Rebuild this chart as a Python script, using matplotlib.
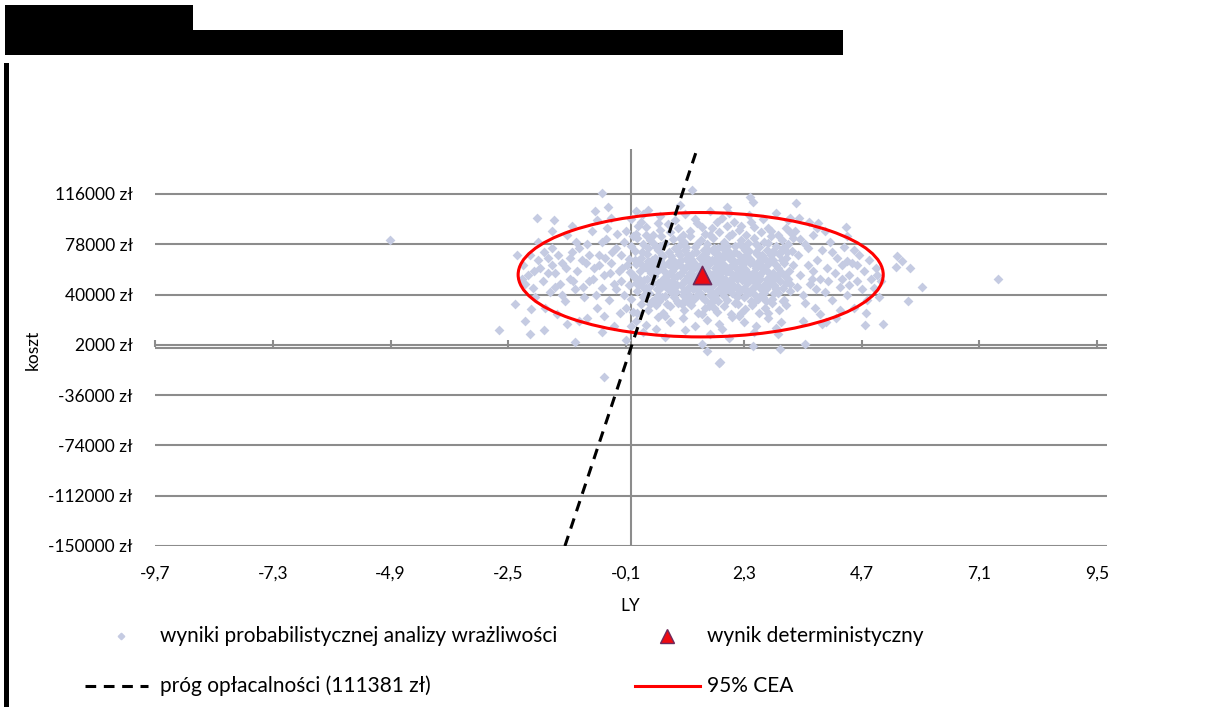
import matplotlib
matplotlib.use("Agg")
import matplotlib.pyplot as plt
from matplotlib.patches import Ellipse, Rectangle
from matplotlib.lines import Line2D

plt.rcParams['font.family'] = ['Lato', 'DejaVu Sans']

W, H = 1226, 707

# axis ticks
x_ticks = [-9.7, -7.3, -4.9, -2.5, -0.1, 2.3, 4.7, 7.1, 9.5]
x_tick_labels = ['-9,7', '-7,3', '-4,9', '-2,5', '-0,1', '2,3', '4,7', '7,1', '9,5']
y_ticks = [-150000, -112000, -74000, -36000, 2000, 40000, 78000, 116000]

# cost-effectiveness threshold, zl per LY
threshold = 111381

# deterministic result
det_ly = 1.45
det_cost = 55000

# 95% CEA ellipse
ell_center_ly = 1.42
ell_center_cost = 55000
ell_half_ly = 3.72
ell_half_cost = 47000

# PSA results (LY, cost in thousand zl)
psa_core = [
    (0.0, 97), (0.35, 104), (0.6, 99), (0.9, 96), (1.1, 101), (1.3, 97), (1.6, 103), (1.85, 98),
    (2.1, 95), (2.4, 100), (2.7, 97), (2.95, 102), (3.2, 96), (0.15, 92), (0.75, 93), (1.45, 91),
    (2.25, 92), (2.8, 90), (1.95, 106), (1.0, 108),
    (-0.1, 88), (0.1, 86), (0.3, 91), (0.45, 85), (0.6, 89), (0.8, 87), (0.95, 90), (1.05, 85),
    (1.2, 88), (1.35, 94), (1.5, 86), (1.65, 90), (1.8, 87), (1.95, 92), (2.05, 86), (2.2, 89),
    (2.35, 85), (2.5, 91), (2.65, 87), (2.85, 88), (3.0, 85), (3.15, 90), (0.55, 94), (1.75, 95),
    (2.45, 95), (0.2, 95), (3.25, 87),
    (-0.15, 80), (0.0, 77), (0.12, 83), (0.25, 78), (0.38, 81), (0.5, 76), (0.62, 84), (0.7, 79),
    (0.85, 82), (0.98, 77), (1.08, 80), (1.2, 84), (1.3, 76), (1.42, 81), (1.55, 78), (1.68, 83),
    (1.78, 75), (1.9, 80), (2.0, 84), (2.12, 77), (2.25, 81), (2.38, 79), (2.5, 83), (2.6, 76),
    (2.72, 80), (2.85, 84), (2.95, 77), (3.08, 81), (3.2, 78), (0.3, 85), (0.9, 75), (1.6, 85),
    (2.3, 75), (2.8, 79), (0.05, 84), (1.0, 83), (1.95, 77), (2.55, 78), (3.3, 83), (0.45, 79),
    (-0.2, 70), (-0.05, 67), (0.08, 73), (0.2, 68), (0.32, 71), (0.43, 66), (0.55, 74), (0.66, 69),
    (0.78, 72), (0.88, 65), (1.0, 70), (1.1, 74), (1.22, 67), (1.33, 72), (1.45, 69), (1.57, 74),
    (1.66, 66), (1.77, 71), (1.88, 68), (1.98, 73), (2.1, 65), (2.2, 70), (2.32, 74), (2.43, 67),
    (2.55, 72), (2.66, 69), (2.78, 74), (2.9, 66), (3.02, 71), (3.15, 68), (3.28, 73), (0.15, 65),
    (0.6, 66), (1.15, 66), (1.5, 71), (2.0, 68), (2.6, 65), (3.1, 75), (0.95, 73), (1.7, 75),
    (2.35, 70), (2.85, 70), (0.35, 75), (1.25, 71), (1.92, 74),
    (-0.18, 60), (-0.02, 57), (0.1, 63), (0.18, 58), (0.28, 61), (0.4, 56), (0.5, 64), (0.58, 59),
    (0.68, 62), (0.76, 55), (0.86, 60), (0.95, 64), (1.03, 57), (1.12, 61), (1.2, 56), (1.3, 63),
    (1.38, 59), (1.48, 62), (1.56, 57), (1.62, 64), (1.72, 60), (1.8, 55), (1.9, 62), (1.98, 58),
    (2.07, 63), (2.15, 56), (2.24, 61), (2.33, 59), (2.42, 64), (2.5, 57), (2.6, 62), (2.7, 58),
    (2.8, 63), (2.9, 56), (3.0, 60), (3.12, 64), (3.22, 58), (0.05, 55), (0.35, 65), (0.8, 65),
    (1.25, 65), (1.7, 65), (2.2, 65), (2.65, 65), (0.45, 60), (1.08, 59), (1.52, 60), (2.0, 60),
    (2.38, 56), (2.95, 62), (0.22, 62), (0.7, 57), (1.35, 55), (1.85, 58), (2.55, 60), (3.05, 57),
    (-0.2, 50), (-0.05, 47), (0.06, 53), (0.16, 48), (0.26, 51), (0.37, 46), (0.46, 54), (0.55, 49),
    (0.65, 52), (0.74, 45), (0.84, 50), (0.93, 54), (1.02, 47), (1.1, 51), (1.18, 46), (1.28, 53),
    (1.37, 49), (1.46, 52), (1.55, 47), (1.64, 54), (1.74, 50), (1.83, 45), (1.92, 52), (2.0, 48),
    (2.09, 53), (2.18, 46), (2.27, 51), (2.36, 49), (2.45, 54), (2.54, 47), (2.63, 52), (2.73, 48),
    (2.83, 53), (2.93, 46), (3.03, 50), (3.14, 54), (3.25, 48), (0.3, 45), (0.6, 45), (1.0, 55),
    (1.5, 45), (2.05, 45), (2.5, 50), (2.9, 51), (0.1, 49), (0.78, 48), (1.23, 49), (1.7, 48),
    (2.2, 54), (2.68, 45), (3.2, 52),
    (-0.15, 40), (0.0, 37), (0.12, 43), (0.24, 38), (0.36, 41), (0.47, 36), (0.58, 44), (0.7, 39),
    (0.82, 42), (0.93, 35), (1.05, 40), (1.16, 44), (1.28, 37), (1.4, 41), (1.5, 36), (1.6, 43),
    (1.72, 39), (1.84, 42), (1.95, 36), (2.06, 41), (2.18, 44), (2.3, 38), (2.42, 42), (2.53, 35),
    (2.64, 40), (2.76, 44), (2.88, 37), (3.0, 41), (3.12, 36), (3.24, 43), (0.3, 45), (0.88, 38),
    (1.35, 44), (1.9, 39), (2.48, 45), (0.55, 40), (1.1, 36), (1.78, 35), (2.35, 40), (2.95, 44),
    (-0.1, 30), (0.05, 27), (0.2, 33), (0.35, 28), (0.5, 32), (0.65, 26), (0.8, 31), (0.95, 34),
    (1.08, 28), (1.22, 32), (1.36, 26), (1.5, 30), (1.63, 34), (1.76, 27), (1.9, 31), (2.04, 25),
    (2.18, 33), (2.32, 29), (2.46, 32), (2.6, 26), (2.74, 30), (2.88, 34), (3.02, 28), (3.16, 32),
    (0.42, 35), (1.15, 35), (1.7, 30), (2.25, 26), (2.8, 26), (0.12, 26),
    (0.1, 20), (0.3, 17), (0.55, 23), (0.8, 19), (1.05, 22), (1.3, 16), (1.55, 21), (1.8, 18),
    (2.05, 23), (2.3, 19), (2.55, 16), (2.8, 22), (3.05, 19), (0.7, 24), (1.45, 25), (2.2, 24),
    (2.95, 15), (0.0, 16),
    (0.25, 12), (0.7, 8), (1.1, 13), (1.6, 10), (2.0, 7), (2.5, 12), (0.5, 14), (1.85, 14), (3.0, 10),
]

psa_center = [
    (0.22, 72), (0.33, 52), (0.41, 63), (0.52, 44), (0.63, 70), (0.72, 51), (0.83, 58), (0.91, 42),
    (1.01, 66), (1.06, 49), (1.14, 71), (1.19, 40), (1.27, 59), (1.32, 45), (1.4, 68), (1.44, 38),
    (1.53, 55), (1.58, 66), (1.64, 46), (1.69, 72), (1.75, 53), (1.82, 63), (1.87, 41), (1.94, 57),
    (2.02, 69), (2.08, 47), (2.14, 60), (2.2, 42), (2.28, 67), (2.34, 53), (2.4, 73), (2.47, 44),
    (2.53, 62), (2.58, 51), (2.66, 70), (2.71, 41), (2.79, 57), (2.86, 67), (2.92, 47), (0.27, 40),
    (0.38, 58), (0.48, 68), (0.57, 35), (0.68, 47), (0.76, 63), (0.87, 53), (0.97, 71), (1.04, 33),
    (1.16, 54), (1.23, 62), (1.33, 39), (1.42, 48), (1.49, 74), (1.6, 51), (1.67, 38), (1.73, 67),
    (1.81, 48), (1.89, 71), (1.97, 44), (2.04, 56), (2.12, 72), (2.17, 38), (2.26, 58), (2.31, 45),
    (2.39, 66), (2.44, 35), (2.51, 55), (2.57, 71), (2.62, 45), (2.69, 60), (2.75, 35), (2.83, 48),
    (2.89, 73), (2.97, 54), (3.07, 66), (3.1, 45), (3.18, 72), (0.17, 52), (0.08, 66), (-0.08, 62),
    (0.44, 49), (0.6, 77), (0.73, 33), (0.9, 61), (1.13, 76), (1.26, 44), (1.39, 54), (1.47, 64),
    (1.62, 40), (1.79, 59), (1.86, 76), (2.02, 51), (2.23, 78), (2.37, 43), (2.49, 64), (2.59, 37),
    (2.74, 67), (2.91, 41), (3.04, 72), (3.16, 49), (0.26, 45), (0.53, 58), (0.82, 69), (1.07, 43),
    (1.34, 78), (1.58, 31), (1.91, 49), (2.11, 34), (2.29, 63), (2.52, 40), (2.77, 52), (3.09, 35),
    (0.64, 38), (1.2, 51), (1.53, 68), (1.76, 43), (2.16, 52), (2.41, 50), (2.68, 38), (0.94, 47),
    (0.39, 33), (1.0, 62), (1.7, 56), (2.3, 56), (2.6, 54), (1.45, 57), (1.85, 52), (2.05, 66),
    (0.85, 44), (1.15, 68),
]

psa_left = [
    (-2.2, 62), (-2.1, 55), (-2.05, 70), (-2.0, 45), (-1.95, 38), (-1.9, 80), (-1.85, 60), (-1.8, 50),
    (-1.75, 30), (-1.7, 68), (-1.65, 42), (-1.6, 75), (-1.55, 56), (-1.5, 25), (-1.45, 48), (-1.4, 64),
    (-1.35, 35), (-1.3, 85), (-1.25, 52), (-1.2, 72), (-1.15, 44), (-1.1, 58), (-1.05, 20), (-1.0, 66),
    (-0.95, 38), (-0.9, 78), (-0.85, 50), (-0.8, 88), (-0.75, 60), (-0.7, 30), (-0.65, 70), (-0.6, 45),
    (-0.55, 55), (-0.5, 82), (-0.45, 36), (-0.4, 64), (-0.35, 48), (-0.3, 75), (-0.25, 58), (-0.22, 26),
    (-1.9, 66), (-1.78, 72), (-1.62, 62), (-1.48, 70), (-1.32, 60), (-1.18, 50), (-1.05, 75), (-0.92, 64),
    (-0.78, 52), (-0.65, 62), (-0.52, 68), (-0.42, 56), (-0.3, 44), (-1.7, 56), (-1.55, 46), (-1.4, 40),
    (-1.25, 68), (-1.12, 80), (-0.98, 46), (-0.85, 70), (-0.72, 40), (-0.6, 80), (-0.48, 90), (-0.38, 72),
    (-0.28, 86), (-2.15, 48), (-1.98, 58), (-1.2, 92), (-0.7, 96), (-0.4, 98), (-1.6, 88), (-0.55, 24),
    (-0.9, 22), (-1.3, 18), (-0.35, 16), (-0.6, 12),
]

psa_right = [
    (3.35, 88), (3.4, 70), (3.45, 55), (3.5, 40), (3.55, 78), (3.6, 62), (3.65, 48), (3.7, 85),
    (3.75, 30), (3.8, 66), (3.85, 52), (3.9, 74), (3.95, 42), (4.0, 60), (4.05, 80), (4.1, 36),
    (4.15, 56), (4.2, 68), (4.25, 46), (4.3, 62), (4.35, 76), (4.4, 40), (4.45, 55), (4.5, 64),
    (4.55, 30), (4.6, 50), (4.65, 70), (4.7, 44), (4.75, 58), (4.8, 36), (4.85, 66), (4.9, 52),
    (4.95, 45), (5.0, 60), (5.05, 38), (5.1, 50), (3.45, 82), (3.55, 34), (3.7, 58), (3.85, 25),
    (3.95, 88), (4.1, 72), (4.25, 28), (4.4, 84), (4.55, 74), (3.38, 46), (3.62, 95), (3.78, 44),
    (4.02, 50), (4.18, 22), (3.5, 20), (3.9, 18), (4.3, 52), (4.6, 62), (4.78, 26), (5.02, 55),
    (3.3, 62), (3.42, 98), (3.6, 75), (3.8, 90), (4.45, 47), (3.68, 52),
]

psa_outer = [
    (-0.60, 117), (1.24, 119), (0.10, 103), (0.24, 101), (-0.47, 106), (-0.73, 103), (-1.92, 98),
    (-1.57, 96), (-2.33, 70), (-2.23, 52), (-2.36, 33), (-2.04, 29), (-2.68, 13), (-2.15, 20),
    (-2.05, 10), (-1.77, 13), (-1.14, 4), (-0.56, -22), (-0.11, 6), (1.44, 3), (1.55, -3),
    (1.80, -12), (2.43, 114), (2.48, 110), (3.36, 109), (2.0, 102), (3.25, 98), (3.81, 94),
    (4.38, 91), (5.43, 69), (5.53, 65), (5.41, 61), (5.69, 60), (7.47, 52), (5.94, 46), (5.65, 35),
    (4.77, 17), (5.14, 18), (3.98, 19), (3.55, 3), (3.04, -1), (2.48, 1), (1.81, -11), (4.40, 65),
    (-4.91, 81),
]

psa_points = psa_core + psa_center + psa_left + psa_right + psa_outer
psa_ly = [p[0] for p in psa_points]
psa_cost = [p[1] * 1000 for p in psa_points]

grid_col = '#8c8c8c'
dot_col = '#c5cbe2'

fig = plt.figure(figsize=(W / 100, H / 100), dpi=100)
ax = fig.add_axes([155 / W, 1 - 546 / H, 952 / W, 397 / H])
ax.set_xlim(-9.7, 9.7)
ax.set_ylim(-150000, 150000)

for s in ax.spines.values():
    s.set_visible(False)

# horizontal gridlines + axis lines through the origin
for y in y_ticks:
    ax.axhline(y, color=grid_col, lw=1.5, zorder=0)
ax.axhline(0, color=grid_col, lw=1.5, zorder=0)
ax.axvline(0, color=grid_col, lw=1.5, zorder=0)

ax.set_yticks(y_ticks)
ax.set_yticklabels([f'{v} zł' for v in y_ticks])
ax.set_xticks(x_ticks)
ax.set_xticklabels(x_tick_labels)
ax.tick_params(axis='both', length=0, labelsize=12.5, colors='black')
ax.tick_params(axis='y', pad=16)
ax.tick_params(axis='x', pad=14)

# tick marks on the horizontal axis at y = 0
sec = ax.secondary_xaxis(0.5)
sec.set_xticks(x_ticks)
sec.set_xticklabels([])
sec.tick_params(direction='out', length=5, width=1.5, color=grid_col)
for s in sec.spines.values():
    s.set_visible(False)

ax.scatter(psa_ly, psa_cost, marker='D', s=25, color=dot_col, linewidths=0, zorder=2)

ax.add_patch(Ellipse((ell_center_ly, ell_center_cost), 2 * ell_half_ly, 2 * ell_half_cost,
                     fill=False, edgecolor='#ff0000', lw=2.2, zorder=3))

ax.axline((0, 0), slope=threshold, color='black', lw=2.2, linestyle=(0, (3.5, 2.5)), zorder=4)

ax.scatter([det_ly], [det_cost], marker='^', s=170, color='#ee0a12',
           edgecolors='#6e2a5c', linewidths=1.2, zorder=5)

# axis titles
fig.text(33 / W, 1 - 350 / H, 'koszt', rotation=90, ha='center', va='center', fontsize=12.5)
fig.text(630 / W, 1 - 606 / H, 'LY', ha='center', va='center', fontsize=12.5)

# legend
def fx(x):
    return x / W

def fy(y):
    return 1 - y / H

fig.add_artist(Line2D([fx(121)], [fy(636)], marker='D', markersize=3.3, color=dot_col,
                      linestyle='none', transform=fig.transFigure))
fig.text(fx(160), fy(636), 'wyniki probabilistycznej analizy wrażliwości', va='center', fontsize=15)
fig.add_artist(Line2D([fx(667)], [fy(636)], marker='^', markersize=10, color='#ee0a12',
                      markeredgecolor='#6e2a5c', linestyle='none', transform=fig.transFigure))
fig.text(fx(707), fy(636), 'wynik deterministyczny', va='center', fontsize=15)
fig.add_artist(Line2D([fx(85), fx(148)], [fy(686), fy(686)], color='black', lw=2.2,
                      linestyle=(0, (3.5, 2.5)), transform=fig.transFigure))
fig.text(fx(160), fy(686), 'próg opłacalności (111381 zł)', va='center', fontsize=15)
fig.add_artist(Line2D([fx(635), fx(700)], [fy(686), fy(686)], color='#ff0000', lw=2.2,
                      transform=fig.transFigure))
fig.text(fx(707), fy(686), '95% CEA', va='center', fontsize=15)

# black blocks along the top and left edge
for x0, y0, x1, y1 in [(5, 5, 193, 55), (5, 30, 843, 55), (4, 63, 9, 707)]:
    fig.add_artist(Rectangle((fx(x0), fy(y1)), (x1 - x0) / W, (y1 - y0) / H,
                             color='black', lw=0, transform=fig.transFigure))

fig.savefig('out.png', dpi=100)
